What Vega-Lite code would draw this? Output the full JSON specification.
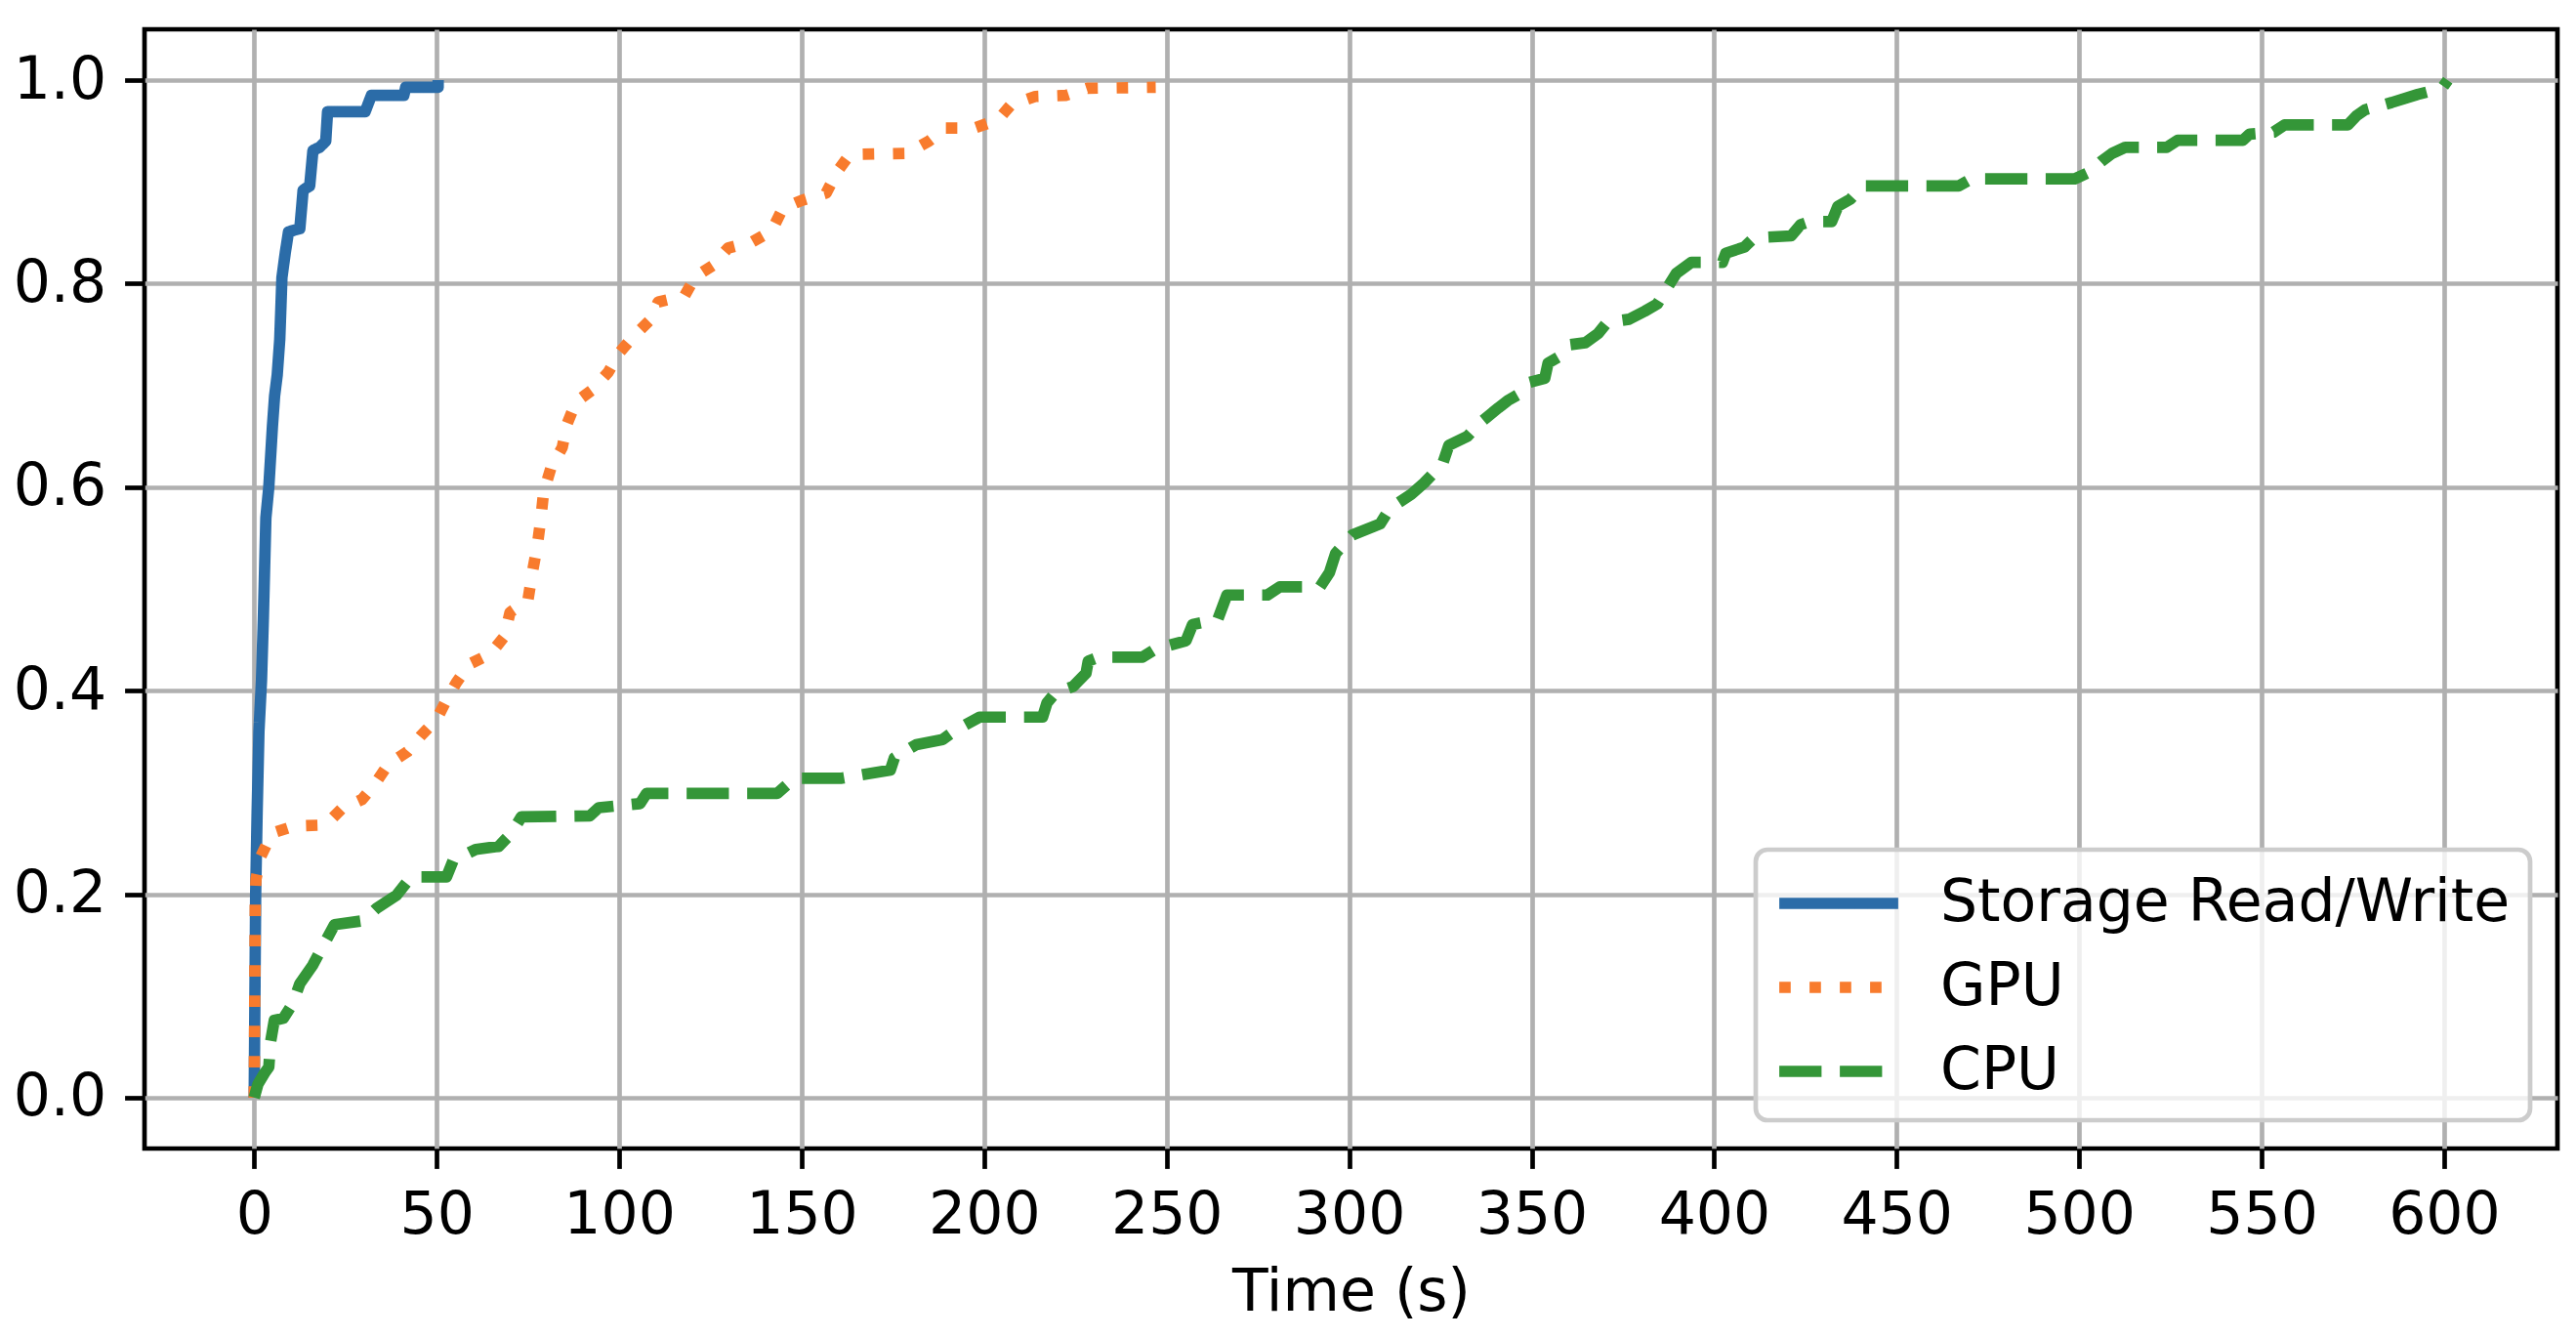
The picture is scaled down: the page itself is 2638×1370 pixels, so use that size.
{
  "$schema": "https://vega.github.io/schema/vega-lite/v6.json",
  "width": 2471,
  "height": 1146,
  "autosize": {"type": "none"},
  "padding": {"left": 148, "top": 30, "right": 19, "bottom": 194},
  "background": "white",
  "config": {
    "font": "DejaVu Sans",
    "view": {"stroke": "black", "strokeWidth": 4.7},
    "axis": {
      "domain": false,
      "grid": true,
      "gridColor": "#b0b0b0",
      "gridWidth": 4.7,
      "tickColor": "black",
      "tickWidth": 4.7,
      "tickSize": 20.4,
      "labelFont": "DejaVu Sans",
      "labelFontSize": 60,
      "labelColor": "black",
      "labelPadding": 19,
      "titleFont": "DejaVu Sans",
      "titleFontSize": 60,
      "titleFontWeight": "normal",
      "titleColor": "black"
    },
    "legend": {
      "title": null,
      "orient": "none",
      "legendX": 1650,
      "legendY": 840,
      "symbolType": "M-2.1,0H2.1",
      "symbolSize": 3364,
      "symbolStrokeWidth": 11.7,
      "symbolOffset": 30,
      "labelFont": "DejaVu Sans",
      "labelFontSize": 60,
      "labelColor": "black",
      "labelLimit": 2000,
      "labelOffset": 69,
      "padding": 20,
      "rowPadding": 21,
      "fillColor": "rgba(255,255,255,0.8)",
      "strokeColor": "#cccccc",
      "cornerRadius": 12
    }
  },
  "data": {
    "values": [
      {"s": "Storage Read/Write", "i": 0, "t": 0, "p": 0},
      {"s": "Storage Read/Write", "i": 1, "t": 0.2, "p": 0.1},
      {"s": "Storage Read/Write", "i": 2, "t": 0.4, "p": 0.2},
      {"s": "Storage Read/Write", "i": 3, "t": 0.8, "p": 0.28},
      {"s": "Storage Read/Write", "i": 4, "t": 1.3, "p": 0.36},
      {"s": "Storage Read/Write", "i": 5, "t": 2.0, "p": 0.41},
      {"s": "Storage Read/Write", "i": 6, "t": 2.5, "p": 0.47},
      {"s": "Storage Read/Write", "i": 7, "t": 3.2, "p": 0.57},
      {"s": "Storage Read/Write", "i": 8, "t": 4.0, "p": 0.6},
      {"s": "Storage Read/Write", "i": 9, "t": 5.0, "p": 0.66},
      {"s": "Storage Read/Write", "i": 10, "t": 5.6, "p": 0.69},
      {"s": "Storage Read/Write", "i": 11, "t": 6.3, "p": 0.71},
      {"s": "Storage Read/Write", "i": 12, "t": 7.0, "p": 0.745},
      {"s": "Storage Read/Write", "i": 13, "t": 7.3, "p": 0.775},
      {"s": "Storage Read/Write", "i": 14, "t": 7.6, "p": 0.806},
      {"s": "Storage Read/Write", "i": 15, "t": 8.5, "p": 0.83},
      {"s": "Storage Read/Write", "i": 16, "t": 9.4, "p": 0.851},
      {"s": "Storage Read/Write", "i": 17, "t": 12.5, "p": 0.854},
      {"s": "Storage Read/Write", "i": 18, "t": 13.4, "p": 0.892},
      {"s": "Storage Read/Write", "i": 19, "t": 15.2, "p": 0.896},
      {"s": "Storage Read/Write", "i": 20, "t": 16.1, "p": 0.931},
      {"s": "Storage Read/Write", "i": 21, "t": 17.9, "p": 0.934},
      {"s": "Storage Read/Write", "i": 22, "t": 19.6, "p": 0.94},
      {"s": "Storage Read/Write", "i": 23, "t": 20.1, "p": 0.969},
      {"s": "Storage Read/Write", "i": 24, "t": 30.4, "p": 0.969},
      {"s": "Storage Read/Write", "i": 25, "t": 32.1, "p": 0.985},
      {"s": "Storage Read/Write", "i": 26, "t": 41.0, "p": 0.985},
      {"s": "Storage Read/Write", "i": 27, "t": 41.5, "p": 0.993},
      {"s": "Storage Read/Write", "i": 28, "t": 50.4, "p": 0.993},
      {"s": "Storage Read/Write", "i": 29, "t": 50.4, "p": 1.0},

      {"s": "GPU", "i": 0, "t": 0, "p": 0},
      {"s": "GPU", "i": 1, "t": 0.3, "p": 0.2},
      {"s": "GPU", "i": 2, "t": 0.5, "p": 0.215},
      {"s": "GPU", "i": 3, "t": 1.8, "p": 0.237},
      {"s": "GPU", "i": 4, "t": 4.9, "p": 0.26},
      {"s": "GPU", "i": 5, "t": 11, "p": 0.267},
      {"s": "GPU", "i": 6, "t": 19.6, "p": 0.268},
      {"s": "GPU", "i": 7, "t": 24, "p": 0.284},
      {"s": "GPU", "i": 8, "t": 29.5, "p": 0.293},
      {"s": "GPU", "i": 9, "t": 33, "p": 0.308},
      {"s": "GPU", "i": 10, "t": 36.8, "p": 0.328},
      {"s": "GPU", "i": 11, "t": 42, "p": 0.34},
      {"s": "GPU", "i": 12, "t": 45.5, "p": 0.355},
      {"s": "GPU", "i": 13, "t": 50, "p": 0.372},
      {"s": "GPU", "i": 14, "t": 52.7, "p": 0.391},
      {"s": "GPU", "i": 15, "t": 55.4, "p": 0.408},
      {"s": "GPU", "i": 16, "t": 58.9, "p": 0.426},
      {"s": "GPU", "i": 17, "t": 64.7, "p": 0.436},
      {"s": "GPU", "i": 18, "t": 68.5, "p": 0.453},
      {"s": "GPU", "i": 19, "t": 70.1, "p": 0.477},
      {"s": "GPU", "i": 20, "t": 75, "p": 0.489},
      {"s": "GPU", "i": 21, "t": 76.2, "p": 0.516},
      {"s": "GPU", "i": 22, "t": 77.5, "p": 0.541},
      {"s": "GPU", "i": 23, "t": 78.5, "p": 0.568},
      {"s": "GPU", "i": 24, "t": 79.3, "p": 0.595},
      {"s": "GPU", "i": 25, "t": 81.3, "p": 0.619},
      {"s": "GPU", "i": 26, "t": 84.4, "p": 0.639},
      {"s": "GPU", "i": 27, "t": 85.7, "p": 0.662},
      {"s": "GPU", "i": 28, "t": 88.2, "p": 0.684},
      {"s": "GPU", "i": 29, "t": 92.8, "p": 0.696},
      {"s": "GPU", "i": 30, "t": 97, "p": 0.713},
      {"s": "GPU", "i": 31, "t": 100, "p": 0.732},
      {"s": "GPU", "i": 32, "t": 103.6, "p": 0.747},
      {"s": "GPU", "i": 33, "t": 108.4, "p": 0.764},
      {"s": "GPU", "i": 34, "t": 110.7, "p": 0.782},
      {"s": "GPU", "i": 35, "t": 117.9, "p": 0.788},
      {"s": "GPU", "i": 36, "t": 120.9, "p": 0.807},
      {"s": "GPU", "i": 37, "t": 125.7, "p": 0.818},
      {"s": "GPU", "i": 38, "t": 129.8, "p": 0.835},
      {"s": "GPU", "i": 39, "t": 136.4, "p": 0.841},
      {"s": "GPU", "i": 40, "t": 141.8, "p": 0.852},
      {"s": "GPU", "i": 41, "t": 144.8, "p": 0.874},
      {"s": "GPU", "i": 42, "t": 150.1, "p": 0.882},
      {"s": "GPU", "i": 43, "t": 156.7, "p": 0.889},
      {"s": "GPU", "i": 44, "t": 159.7, "p": 0.91},
      {"s": "GPU", "i": 45, "t": 163.2, "p": 0.927},
      {"s": "GPU", "i": 46, "t": 178.8, "p": 0.928},
      {"s": "GPU", "i": 47, "t": 184.8, "p": 0.94},
      {"s": "GPU", "i": 48, "t": 189.5, "p": 0.953},
      {"s": "GPU", "i": 49, "t": 197.3, "p": 0.953},
      {"s": "GPU", "i": 50, "t": 203.8, "p": 0.961},
      {"s": "GPU", "i": 51, "t": 207.4, "p": 0.976},
      {"s": "GPU", "i": 52, "t": 214, "p": 0.984},
      {"s": "GPU", "i": 53, "t": 222.3, "p": 0.985},
      {"s": "GPU", "i": 54, "t": 228.3, "p": 0.992},
      {"s": "GPU", "i": 55, "t": 247, "p": 0.993},

      {"s": "CPU", "i": 0, "t": 0, "p": 0},
      {"s": "CPU", "i": 1, "t": 1, "p": 0.013},
      {"s": "CPU", "i": 2, "t": 3, "p": 0.025},
      {"s": "CPU", "i": 3, "t": 4, "p": 0.03},
      {"s": "CPU", "i": 4, "t": 4.5, "p": 0.055},
      {"s": "CPU", "i": 5, "t": 5.5, "p": 0.076},
      {"s": "CPU", "i": 6, "t": 8, "p": 0.078},
      {"s": "CPU", "i": 7, "t": 10.5, "p": 0.092},
      {"s": "CPU", "i": 8, "t": 12.5, "p": 0.112},
      {"s": "CPU", "i": 9, "t": 16, "p": 0.13},
      {"s": "CPU", "i": 10, "t": 19, "p": 0.15},
      {"s": "CPU", "i": 11, "t": 22, "p": 0.17},
      {"s": "CPU", "i": 12, "t": 30, "p": 0.174},
      {"s": "CPU", "i": 13, "t": 33.5, "p": 0.186},
      {"s": "CPU", "i": 14, "t": 39, "p": 0.199},
      {"s": "CPU", "i": 15, "t": 43, "p": 0.217},
      {"s": "CPU", "i": 16, "t": 52.7, "p": 0.217},
      {"s": "CPU", "i": 17, "t": 54.5, "p": 0.233},
      {"s": "CPU", "i": 18, "t": 60.7, "p": 0.244},
      {"s": "CPU", "i": 19, "t": 67, "p": 0.247},
      {"s": "CPU", "i": 20, "t": 70.5, "p": 0.26},
      {"s": "CPU", "i": 21, "t": 73.2, "p": 0.276},
      {"s": "CPU", "i": 22, "t": 92, "p": 0.277},
      {"s": "CPU", "i": 23, "t": 94.4, "p": 0.285},
      {"s": "CPU", "i": 24, "t": 105.7, "p": 0.289},
      {"s": "CPU", "i": 25, "t": 107.5, "p": 0.299},
      {"s": "CPU", "i": 26, "t": 143.3, "p": 0.299},
      {"s": "CPU", "i": 27, "t": 148, "p": 0.314},
      {"s": "CPU", "i": 28, "t": 161, "p": 0.314},
      {"s": "CPU", "i": 29, "t": 174.3, "p": 0.322},
      {"s": "CPU", "i": 30, "t": 175.4, "p": 0.334},
      {"s": "CPU", "i": 31, "t": 181.4, "p": 0.347},
      {"s": "CPU", "i": 32, "t": 188.6, "p": 0.352},
      {"s": "CPU", "i": 33, "t": 192.1, "p": 0.361},
      {"s": "CPU", "i": 34, "t": 198.7, "p": 0.374},
      {"s": "CPU", "i": 35, "t": 216, "p": 0.374},
      {"s": "CPU", "i": 36, "t": 217.2, "p": 0.388},
      {"s": "CPU", "i": 37, "t": 219.5, "p": 0.398},
      {"s": "CPU", "i": 38, "t": 224.3, "p": 0.404},
      {"s": "CPU", "i": 39, "t": 227.9, "p": 0.417},
      {"s": "CPU", "i": 40, "t": 228.5, "p": 0.429},
      {"s": "CPU", "i": 41, "t": 231.5, "p": 0.433},
      {"s": "CPU", "i": 42, "t": 243.4, "p": 0.433},
      {"s": "CPU", "i": 43, "t": 247, "p": 0.441},
      {"s": "CPU", "i": 44, "t": 255.3, "p": 0.449},
      {"s": "CPU", "i": 45, "t": 257.1, "p": 0.465},
      {"s": "CPU", "i": 46, "t": 264, "p": 0.47},
      {"s": "CPU", "i": 47, "t": 266.5, "p": 0.494},
      {"s": "CPU", "i": 48, "t": 277.6, "p": 0.494},
      {"s": "CPU", "i": 49, "t": 281, "p": 0.502},
      {"s": "CPU", "i": 50, "t": 292, "p": 0.502},
      {"s": "CPU", "i": 51, "t": 294.6, "p": 0.516},
      {"s": "CPU", "i": 52, "t": 296.3, "p": 0.535},
      {"s": "CPU", "i": 53, "t": 298, "p": 0.542},
      {"s": "CPU", "i": 54, "t": 300.9, "p": 0.553},
      {"s": "CPU", "i": 55, "t": 308.5, "p": 0.564},
      {"s": "CPU", "i": 56, "t": 311.1, "p": 0.579},
      {"s": "CPU", "i": 57, "t": 317, "p": 0.593},
      {"s": "CPU", "i": 58, "t": 320.5, "p": 0.604},
      {"s": "CPU", "i": 59, "t": 325.6, "p": 0.623},
      {"s": "CPU", "i": 60, "t": 327.3, "p": 0.641},
      {"s": "CPU", "i": 61, "t": 332.4, "p": 0.65},
      {"s": "CPU", "i": 62, "t": 335.8, "p": 0.663},
      {"s": "CPU", "i": 63, "t": 340.9, "p": 0.678},
      {"s": "CPU", "i": 64, "t": 343.4, "p": 0.685},
      {"s": "CPU", "i": 65, "t": 346.8, "p": 0.692},
      {"s": "CPU", "i": 66, "t": 349.4, "p": 0.703},
      {"s": "CPU", "i": 67, "t": 353.6, "p": 0.707},
      {"s": "CPU", "i": 68, "t": 354.5, "p": 0.722},
      {"s": "CPU", "i": 69, "t": 357.9, "p": 0.729},
      {"s": "CPU", "i": 70, "t": 360.5, "p": 0.74},
      {"s": "CPU", "i": 71, "t": 364.7, "p": 0.742},
      {"s": "CPU", "i": 72, "t": 368.2, "p": 0.751},
      {"s": "CPU", "i": 73, "t": 370.7, "p": 0.762},
      {"s": "CPU", "i": 74, "t": 376.7, "p": 0.765},
      {"s": "CPU", "i": 75, "t": 381, "p": 0.773},
      {"s": "CPU", "i": 76, "t": 384.4, "p": 0.78},
      {"s": "CPU", "i": 77, "t": 387, "p": 0.795},
      {"s": "CPU", "i": 78, "t": 389.6, "p": 0.81},
      {"s": "CPU", "i": 79, "t": 393.8, "p": 0.821},
      {"s": "CPU", "i": 80, "t": 402.3, "p": 0.821},
      {"s": "CPU", "i": 81, "t": 403.2, "p": 0.83},
      {"s": "CPU", "i": 82, "t": 408.3, "p": 0.836},
      {"s": "CPU", "i": 83, "t": 410.9, "p": 0.845},
      {"s": "CPU", "i": 84, "t": 421.1, "p": 0.847},
      {"s": "CPU", "i": 85, "t": 423.7, "p": 0.858},
      {"s": "CPU", "i": 86, "t": 426.2, "p": 0.861},
      {"s": "CPU", "i": 87, "t": 432.2, "p": 0.861},
      {"s": "CPU", "i": 88, "t": 433.9, "p": 0.876},
      {"s": "CPU", "i": 89, "t": 437.3, "p": 0.883},
      {"s": "CPU", "i": 90, "t": 440.7, "p": 0.896},
      {"s": "CPU", "i": 91, "t": 467, "p": 0.896},
      {"s": "CPU", "i": 92, "t": 470.5, "p": 0.903},
      {"s": "CPU", "i": 93, "t": 498.8, "p": 0.903},
      {"s": "CPU", "i": 94, "t": 503, "p": 0.91},
      {"s": "CPU", "i": 95, "t": 506, "p": 0.92},
      {"s": "CPU", "i": 96, "t": 509, "p": 0.928},
      {"s": "CPU", "i": 97, "t": 512.6, "p": 0.934},
      {"s": "CPU", "i": 98, "t": 524, "p": 0.934},
      {"s": "CPU", "i": 99, "t": 527, "p": 0.941},
      {"s": "CPU", "i": 100, "t": 544.9, "p": 0.941},
      {"s": "CPU", "i": 101, "t": 546.7, "p": 0.947},
      {"s": "CPU", "i": 102, "t": 553.3, "p": 0.949},
      {"s": "CPU", "i": 103, "t": 556.3, "p": 0.956},
      {"s": "CPU", "i": 104, "t": 573.6, "p": 0.956},
      {"s": "CPU", "i": 105, "t": 576, "p": 0.965},
      {"s": "CPU", "i": 106, "t": 578.4, "p": 0.971},
      {"s": "CPU", "i": 107, "t": 585.6, "p": 0.978},
      {"s": "CPU", "i": 108, "t": 592.8, "p": 0.986},
      {"s": "CPU", "i": 109, "t": 599.4, "p": 0.992},
      {"s": "CPU", "i": 110, "t": 601, "p": 1.0}
    ]
  },
  "mark": {"type": "line", "strokeWidth": 11.7, "strokeCap": "butt", "strokeJoin": "round"},
  "encoding": {
    "x": {
      "field": "t",
      "type": "quantitative",
      "scale": {"domain": [-30.05, 631.05], "nice": false, "zero": false},
      "axis": {
        "values": [0, 50, 100, 150, 200, 250, 300, 350, 400, 450, 500, 550, 600],
        "title": "Time (s)",
        "titlePadding": 20,
        "labelFlush": false
      }
    },
    "y": {
      "field": "p",
      "type": "quantitative",
      "scale": {"domain": [-0.05, 1.05], "nice": false, "zero": false},
      "axis": {"values": [0, 0.2, 0.4, 0.6, 0.8, 1.0], "format": ".1f", "title": null, "labelFlush": false}
    },
    "color": {
      "field": "s",
      "type": "nominal",
      "scale": {
        "domain": ["Storage Read/Write", "GPU", "CPU"],
        "range": ["#2b6ca8", "#f87b2d", "#349638"]
      },
      "legend": {
        "encode": {"legend": {"update": {"strokeWidth": {"value": 4.7}}}}
      }
    },
    "strokeDash": {
      "field": "s",
      "type": "nominal",
      "scale": {
        "domain": ["Storage Read/Write", "GPU", "CPU"],
        "range": [[1, 0], [11.7, 19.3], [43.3, 18.7]]
      },
      "legend": {
        "encode": {"legend": {"update": {"strokeWidth": {"value": 4.7}}}}
      }
    },
    "order": {"field": "i", "type": "quantitative"}
  }
}
